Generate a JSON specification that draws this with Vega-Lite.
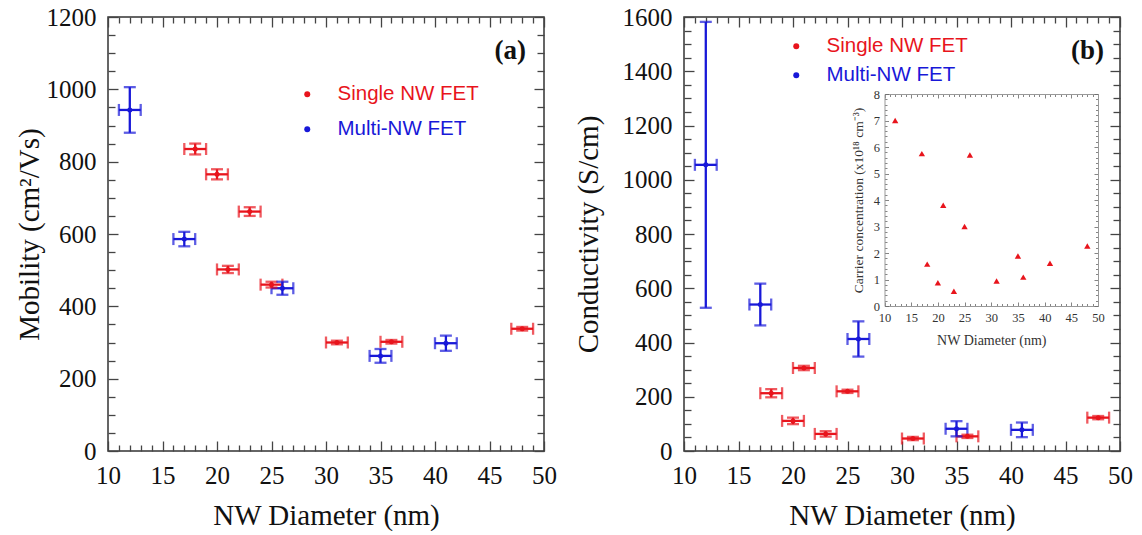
{
  "$schema": "https://vega.github.io/schema/vega-lite/v6.json",
  "background": "white",
  "padding": {"left": 14, "top": 4, "right": 5, "bottom": 0},
  "config": {
    "view": {"stroke": "#333", "strokeWidth": 1.5},
    "font": "Liberation Serif",
    "axis": {"grid": false, "ticks": true, "tickOpacity": 1, "labelFont": "Liberation Serif", "titleFont": "Liberation Serif", "labelColor": "#111", "titleColor": "#111", "titleFontWeight": "normal", "tickColor": "#444", "tickWidth": 1.3, "domainColor": "#333", "labelFlush": false, "labelOverlap": false, "labelBound": false}
  },
  "datasets": {
    "mob": [
      {"type": "Single NW FET", "d": 18, "dErr": 1, "v": 835, "vErr": 15},
      {"type": "Single NW FET", "d": 20, "dErr": 1, "v": 765, "vErr": 14},
      {"type": "Single NW FET", "d": 23, "dErr": 1, "v": 662, "vErr": 12},
      {"type": "Single NW FET", "d": 21, "dErr": 1, "v": 502, "vErr": 10},
      {"type": "Single NW FET", "d": 25, "dErr": 1, "v": 460, "vErr": 8},
      {"type": "Single NW FET", "d": 31, "dErr": 1, "v": 300, "vErr": 5},
      {"type": "Single NW FET", "d": 36, "dErr": 1, "v": 302, "vErr": 5},
      {"type": "Single NW FET", "d": 48, "dErr": 1, "v": 338, "vErr": 5},
      {"type": "Multi-NW FET", "d": 12, "dErr": 1, "v": 943, "vErr": 63},
      {"type": "Multi-NW FET", "d": 17, "dErr": 1, "v": 586, "vErr": 20},
      {"type": "Multi-NW FET", "d": 26, "dErr": 1, "v": 450, "vErr": 18},
      {"type": "Multi-NW FET", "d": 35, "dErr": 1, "v": 263, "vErr": 19},
      {"type": "Multi-NW FET", "d": 41, "dErr": 1, "v": 298, "vErr": 21}
    ],
    "cond": [
      {"type": "Single NW FET", "d": 18, "dErr": 1, "v": 213, "vErr": 15},
      {"type": "Single NW FET", "d": 20, "dErr": 1, "v": 111, "vErr": 12},
      {"type": "Single NW FET", "d": 21, "dErr": 1, "v": 306, "vErr": 8},
      {"type": "Single NW FET", "d": 23, "dErr": 1, "v": 63, "vErr": 10},
      {"type": "Single NW FET", "d": 25, "dErr": 1, "v": 220, "vErr": 6},
      {"type": "Single NW FET", "d": 31, "dErr": 1, "v": 46, "vErr": 6},
      {"type": "Single NW FET", "d": 36, "dErr": 1, "v": 54, "vErr": 6},
      {"type": "Single NW FET", "d": 48, "dErr": 1, "v": 123, "vErr": 6},
      {"type": "Multi-NW FET", "d": 12, "dErr": 1, "v": 1055, "vErr": 527},
      {"type": "Multi-NW FET", "d": 17, "dErr": 1, "v": 540, "vErr": 77},
      {"type": "Multi-NW FET", "d": 26, "dErr": 1, "v": 413, "vErr": 65},
      {"type": "Multi-NW FET", "d": 35, "dErr": 1, "v": 82, "vErr": 28},
      {"type": "Multi-NW FET", "d": 41, "dErr": 1, "v": 78, "vErr": 27}
    ],
    "carrier": [
      {"d": 12, "n": 7.0}, {"d": 17, "n": 5.75}, {"d": 26, "n": 5.7}, {"d": 21, "n": 3.8},
      {"d": 25, "n": 3.0}, {"d": 18, "n": 1.58}, {"d": 20, "n": 0.88}, {"d": 23, "n": 0.56},
      {"d": 31, "n": 0.94}, {"d": 35, "n": 1.89}, {"d": 36, "n": 1.09}, {"d": 41, "n": 1.61},
      {"d": 48, "n": 2.26}
    ]
  },
  "bounds": "flush",
  "spacing": 140,
  "resolve": {"scale": {"color": "independent"}, "legend": {"color": "independent"}},
  "hconcat": [
    {
      "width": 436, "height": 434,
      "title": {"text": "(a)", "anchor": "end", "frame": "group", "orient": "top", "offset": -60, "dx": -18, "fontSize": 27, "fontWeight": "bold", "font": "Liberation Serif", "color": "#111"},
      "data": {"name": "mob"},
      "layer": [
        {
          "transform": [{"filter": "datum.type === 'Single NW FET'"}],
          "mark": {"type": "errorbar", "color": "#e8141c", "ticks": {"size": 12}, "thickness": 2.3},
          "encoding": {
            "x": {"field": "d", "type": "quantitative", "scale": {"domain": [10, 50], "nice": false, "zero": false},
              "axis": {"orient": "bottom", "offset": -10, "ticks": true, "tickSize": 10, "domain": false, "values": [10,15,20,25,30,35,40,45,50], "format": "d", "labelOverlap": false, "labelFontSize": 25, "labelPadding": 12, "title": "NW Diameter (nm)", "titleFontSize": 29, "titlePadding": 13}},
            "xError": {"field": "dErr"},
            "y": {"field": "v", "type": "quantitative", "scale": {"domain": [0, 1200], "nice": false},
              "axis": {"orient": "left", "offset": -10, "ticks": true, "tickSize": 10, "domain": false, "values": [0,200,400,600,800,1000,1200], "format": "d", "labelOverlap": false, "labelFontSize": 25, "labelPadding": 12, "title": "Mobility (cm²/Vs)", "titleFontSize": 29, "titlePadding": 2}}
          }
        },
        {
          "transform": [{"filter": "datum.type === 'Multi-NW FET'"}],
          "mark": {"type": "errorbar", "color": "#1818d8", "ticks": {"size": 12}, "thickness": 2.3},
          "encoding": {
            "x": {"field": "d", "type": "quantitative", "scale": {"domain": [10, 50], "nice": false, "zero": false},
              "axis": {"orient": "bottom", "offset": -6, "ticks": true, "tickSize": 6, "domain": false, "labels": false, "title": null, "values": [11,12,13,14,16,17,18,19,21,22,23,24,26,27,28,29,31,32,33,34,36,37,38,39,41,42,43,44,46,47,48,49]}},
            "xError": {"field": "dErr"},
            "y": {"field": "v", "type": "quantitative", "scale": {"domain": [0, 1200], "nice": false},
              "axis": {"orient": "left", "offset": -7, "ticks": true, "tickSize": 7, "domain": false, "labels": false, "title": null, "values": [50,100,150,250,300,350,450,500,550,650,700,750,850,900,950,1050,1100,1150]}}
          }
        },
        {
          "transform": [{"filter": "datum.type === 'Single NW FET'"}],
          "mark": {"type": "errorbar", "color": "#e8141c", "ticks": {"size": 12}, "thickness": 2.3},
          "encoding": {
            "x": {"field": "d", "type": "quantitative", "scale": {"domain": [10, 50], "nice": false, "zero": false},
              "axis": {"orient": "top", "offset": -10, "ticks": true, "tickSize": 10, "domain": false, "labels": false, "title": null, "values": [10,15,20,25,30,35,40,45,50]}},
            "y": {"field": "v", "type": "quantitative", "scale": {"domain": [0, 1200], "nice": false},
              "axis": {"orient": "right", "offset": -10, "ticks": true, "tickSize": 10, "domain": false, "labels": false, "title": null, "values": [0,200,400,600,800,1000,1200]}},
            "yError": {"field": "vErr"}
          }
        },
        {
          "transform": [{"filter": "datum.type === 'Multi-NW FET'"}],
          "mark": {"type": "errorbar", "color": "#1818d8", "ticks": {"size": 12}, "thickness": 2.3},
          "encoding": {
            "x": {"field": "d", "type": "quantitative", "scale": {"domain": [10, 50], "nice": false, "zero": false},
              "axis": {"orient": "top", "offset": -6, "ticks": true, "tickSize": 6, "domain": false, "labels": false, "title": null, "values": [11,12,13,14,16,17,18,19,21,22,23,24,26,27,28,29,31,32,33,34,36,37,38,39,41,42,43,44,46,47,48,49]}},
            "y": {"field": "v", "type": "quantitative", "scale": {"domain": [0, 1200], "nice": false},
              "axis": {"orient": "right", "offset": -7, "ticks": true, "tickSize": 7, "domain": false, "labels": false, "title": null, "values": [50,100,150,250,300,350,450,500,550,650,700,750,850,900,950,1050,1100,1150]}},
            "yError": {"field": "vErr"}
          }
        },
        {
          "mark": {"type": "point", "filled": true, "size": 25, "opacity": 1},
          "encoding": {
            "x": {"field": "d", "type": "quantitative", "scale": {"domain": [10, 50], "nice": false, "zero": false}, "axis": null},
            "y": {"field": "v", "type": "quantitative", "scale": {"domain": [0, 1200], "nice": false}, "axis": null},
            "color": {"field": "type", "type": "nominal", "scale": {"domain": ["Single NW FET", "Multi-NW FET"], "range": ["#e8141c", "#1818d8"]},
              "legend": {"orient": "none", "legendX": 189, "legendY": 67, "title": null, "symbolType": "circle", "symbolSize": 36, "labelFont": "Liberation Sans", "labelFontSize": 20.5, "labelOffset": 20, "rowPadding": 14, "padding": 0, "labelColor": {"expr": "datum.label === 'Single NW FET' ? '#e8141c' : '#1818d8'"}}}
          }
        }
      ],
      "resolve": {"axis": {"x": "independent", "y": "independent"}}
    },
    {
      "width": 436, "height": 434,
      "title": {"text": "(b)", "anchor": "end", "frame": "group", "orient": "top", "offset": -60, "dx": -16, "fontSize": 27, "fontWeight": "bold", "font": "Liberation Serif", "color": "#111"},
      "layer": [
        {
          "data": {"name": "cond"},
          "transform": [{"filter": "datum.type === 'Single NW FET'"}],
          "mark": {"type": "errorbar", "color": "#e8141c", "ticks": {"size": 12}, "thickness": 2.3},
          "encoding": {
            "x": {"field": "d", "type": "quantitative", "scale": {"domain": [10, 50], "nice": false, "zero": false},
              "axis": {"orient": "bottom", "offset": -10, "ticks": true, "tickSize": 10, "domain": false, "values": [10,15,20,25,30,35,40,45,50], "format": "d", "labelOverlap": false, "labelFontSize": 25, "labelPadding": 12, "title": "NW Diameter (nm)", "titleFontSize": 29, "titlePadding": 13}},
            "xError": {"field": "dErr"},
            "y": {"field": "v", "type": "quantitative", "scale": {"domain": [0, 1600], "nice": false},
              "axis": {"orient": "left", "offset": -10, "ticks": true, "tickSize": 10, "domain": false, "values": [0,200,400,600,800,1000,1200,1400,1600], "format": "d", "labelOverlap": false, "labelFontSize": 25, "labelPadding": 12, "title": "Conductivity (S/cm)", "titleFontSize": 29, "titlePadding": 19}}
          }
        },
        {
          "data": {"name": "cond"},
          "transform": [{"filter": "datum.type === 'Multi-NW FET'"}],
          "mark": {"type": "errorbar", "color": "#1818d8", "ticks": {"size": 12}, "thickness": 2.3},
          "encoding": {
            "x": {"field": "d", "type": "quantitative", "scale": {"domain": [10, 50], "nice": false, "zero": false},
              "axis": {"orient": "bottom", "offset": -6, "ticks": true, "tickSize": 6, "domain": false, "labels": false, "title": null, "values": [11,12,13,14,16,17,18,19,21,22,23,24,26,27,28,29,31,32,33,34,36,37,38,39,41,42,43,44,46,47,48,49]}},
            "xError": {"field": "dErr"},
            "y": {"field": "v", "type": "quantitative", "scale": {"domain": [0, 1600], "nice": false},
              "axis": {"orient": "left", "offset": -7, "ticks": true, "tickSize": 7, "domain": false, "labels": false, "title": null, "values": [50,100,150,250,300,350,450,500,550,650,700,750,850,900,950,1050,1100,1150,1250,1300,1350,1450,1500,1550]}}
          }
        },
        {
          "data": {"name": "cond"},
          "transform": [{"filter": "datum.type === 'Single NW FET'"}],
          "mark": {"type": "errorbar", "color": "#e8141c", "ticks": {"size": 12}, "thickness": 2.3},
          "encoding": {
            "x": {"field": "d", "type": "quantitative", "scale": {"domain": [10, 50], "nice": false, "zero": false},
              "axis": {"orient": "top", "offset": -10, "ticks": true, "tickSize": 10, "domain": false, "labels": false, "title": null, "values": [10,15,20,25,30,35,40,45,50]}},
            "y": {"field": "v", "type": "quantitative", "scale": {"domain": [0, 1600], "nice": false},
              "axis": {"orient": "right", "offset": -10, "ticks": true, "tickSize": 10, "domain": false, "labels": false, "title": null, "values": [0,200,400,600,800,1000,1200,1400,1600]}},
            "yError": {"field": "vErr"}
          }
        },
        {
          "data": {"name": "cond"},
          "transform": [{"filter": "datum.type === 'Multi-NW FET'"}],
          "mark": {"type": "errorbar", "color": "#1818d8", "ticks": {"size": 12}, "thickness": 2.3},
          "encoding": {
            "x": {"field": "d", "type": "quantitative", "scale": {"domain": [10, 50], "nice": false, "zero": false},
              "axis": {"orient": "top", "offset": -6, "ticks": true, "tickSize": 6, "domain": false, "labels": false, "title": null, "values": [11,12,13,14,16,17,18,19,21,22,23,24,26,27,28,29,31,32,33,34,36,37,38,39,41,42,43,44,46,47,48,49]}},
            "y": {"field": "v", "type": "quantitative", "scale": {"domain": [0, 1600], "nice": false},
              "axis": {"orient": "right", "offset": -7, "ticks": true, "tickSize": 7, "domain": false, "labels": false, "title": null, "values": [50,100,150,250,300,350,450,500,550,650,700,750,850,900,950,1050,1100,1150,1250,1300,1350,1450,1500,1550]}},
            "yError": {"field": "vErr"}
          }
        },
        {
          "data": {"name": "cond"},
          "mark": {"type": "point", "filled": true, "size": 25, "opacity": 1},
          "encoding": {
            "x": {"field": "d", "type": "quantitative", "scale": {"domain": [10, 50], "nice": false, "zero": false}, "axis": null},
            "y": {"field": "v", "type": "quantitative", "scale": {"domain": [0, 1600], "nice": false}, "axis": null},
            "color": {"field": "type", "type": "nominal", "scale": {"domain": ["Single NW FET", "Multi-NW FET"], "range": ["#e8141c", "#1818d8"]},
              "legend": {"orient": "none", "legendX": 102, "legendY": 19, "title": null, "symbolType": "circle", "symbolSize": 36, "labelFont": "Liberation Sans", "labelFontSize": 20.5, "labelOffset": 20, "rowPadding": 8, "padding": 0, "labelColor": {"expr": "datum.label === 'Single NW FET' ? '#e8141c' : '#1818d8'"}}}
          }
        },
        {
          "data": {"name": "carrier"},
          "mark": {"type": "point", "shape": "triangle-up", "filled": true, "color": "#e8141c", "size": 40, "opacity": 1},
          "encoding": {
            "x": {"field": "d", "type": "quantitative", "scale": {"domain": [10, 50], "nice": false, "zero": false, "range": [200.5, 414]},
              "axis": {"orient": "bottom", "offset": -149, "ticks": true, "tickSize": 4, "domain": false, "values": [10,15,20,25,30,35,40,45,50], "format": "d", "labelOverlap": false, "tickWidth": 0.8, "tickColor": "#666", "labelFontSize": 12.5, "labelPadding": 5, "labelColor": "#333", "title": "NW Diameter (nm)", "titleFontSize": 14, "titlePadding": 10, "titleColor": "#333"}},
            "y": {"field": "n", "type": "quantitative", "scale": {"domain": [0, 8], "nice": false, "zero": false, "range": [289, 77]},
              "axis": {"orient": "left", "offset": -204.5, "ticks": true, "tickSize": 4, "domain": false, "values": [0,1,2,3,4,5,6,7,8], "format": "d", "labelOverlap": false, "tickWidth": 0.8, "tickColor": "#666", "labelFontSize": 12.5, "labelPadding": 5, "labelColor": "#333", "title": "Carrier concentration (x10¹⁸ cm⁻³)", "titleFontSize": 13.5, "titlePadding": 7.5, "titleColor": "#333"}}
          }
        },
        {
          "data": {"name": "carrier"},
          "mark": {"type": "point", "opacity": 0},
          "encoding": {
            "x": {"field": "d", "type": "quantitative", "scale": {"domain": [10, 50], "nice": false, "zero": false, "range": [200.5, 414]},
              "axis": {"orient": "bottom", "offset": -147.5, "ticks": true, "tickSize": 2.5, "domain": false, "labels": false, "title": null, "tickWidth": 0.8, "tickColor": "#666", "values": [11,12,13,14,16,17,18,19,21,22,23,24,26,27,28,29,31,32,33,34,36,37,38,39,41,42,43,44,46,47,48,49]}},
            "y": {"field": "n", "type": "quantitative", "scale": {"domain": [0, 8], "nice": false, "zero": false, "range": [289, 77]},
              "axis": {"orient": "left", "offset": -203, "ticks": true, "tickSize": 2.5, "domain": false, "labels": false, "title": null, "tickWidth": 0.8, "tickColor": "#666", "values": [0.2,0.4,0.6,0.8,1.2,1.4,1.6,1.8,2.2,2.4,2.6,2.8,3.2,3.4,3.6,3.8,4.2,4.4,4.6,4.8,5.2,5.4,5.6,5.8,6.2,6.4,6.6,6.8,7.2,7.4,7.6,7.8]}}
          }
        },
        {
          "data": {"name": "carrier"},
          "mark": {"type": "point", "opacity": 0},
          "encoding": {
            "x": {"field": "d", "type": "quantitative", "scale": {"domain": [10, 50], "nice": false, "zero": false, "range": [200.5, 414]},
              "axis": {"orient": "bottom", "offset": -145, "ticks": false, "labels": false, "title": null, "domain": true, "domainColor": "#999", "domainWidth": 1}},
            "y": {"field": "n", "type": "quantitative", "scale": {"domain": [0, 8], "nice": false, "zero": false, "range": [289, 77]},
              "axis": {"orient": "left", "offset": -200.5, "ticks": false, "labels": false, "title": null, "domain": true, "domainColor": "#999", "domainWidth": 1}}
          }
        },
        {
          "data": {"name": "carrier"},
          "mark": {"type": "point", "opacity": 0},
          "encoding": {
            "x": {"field": "d", "type": "quantitative", "scale": {"domain": [10, 50], "nice": false, "zero": false, "range": [200.5, 414]},
              "axis": {"orient": "top", "offset": -81, "ticks": true, "tickSize": 4, "domain": false, "labels": false, "title": null, "tickWidth": 0.8, "tickColor": "#666", "values": [10,15,20,25,30,35,40,45,50]}},
            "y": {"field": "n", "type": "quantitative", "scale": {"domain": [0, 8], "nice": false, "zero": false, "range": [289, 77]},
              "axis": {"orient": "right", "offset": -26, "ticks": true, "tickSize": 4, "domain": false, "labels": false, "title": null, "tickWidth": 0.8, "tickColor": "#666", "values": [0,1,2,3,4,5,6,7,8]}}
          }
        },
        {
          "data": {"name": "carrier"},
          "mark": {"type": "point", "opacity": 0},
          "encoding": {
            "x": {"field": "d", "type": "quantitative", "scale": {"domain": [10, 50], "nice": false, "zero": false, "range": [200.5, 414]},
              "axis": {"orient": "top", "offset": -79.5, "ticks": true, "tickSize": 2.5, "domain": false, "labels": false, "title": null, "tickWidth": 0.8, "tickColor": "#666", "values": [11,12,13,14,16,17,18,19,21,22,23,24,26,27,28,29,31,32,33,34,36,37,38,39,41,42,43,44,46,47,48,49]}},
            "y": {"field": "n", "type": "quantitative", "scale": {"domain": [0, 8], "nice": false, "zero": false, "range": [289, 77]},
              "axis": {"orient": "right", "offset": -24.5, "ticks": true, "tickSize": 2.5, "domain": false, "labels": false, "title": null, "tickWidth": 0.8, "tickColor": "#666", "values": [0.2,0.4,0.6,0.8,1.2,1.4,1.6,1.8,2.2,2.4,2.6,2.8,3.2,3.4,3.6,3.8,4.2,4.4,4.6,4.8,5.2,5.4,5.6,5.8,6.2,6.4,6.6,6.8,7.2,7.4,7.6,7.8]}}
          }
        },
        {
          "data": {"name": "carrier"},
          "mark": {"type": "point", "opacity": 0},
          "encoding": {
            "x": {"field": "d", "type": "quantitative", "scale": {"domain": [10, 50], "nice": false, "zero": false, "range": [200.5, 414]},
              "axis": {"orient": "top", "offset": -77, "ticks": false, "labels": false, "title": null, "domain": true, "domainColor": "#999", "domainWidth": 1}},
            "y": {"field": "n", "type": "quantitative", "scale": {"domain": [0, 8], "nice": false, "zero": false, "range": [289, 77]},
              "axis": {"orient": "right", "offset": -22, "ticks": false, "labels": false, "title": null, "domain": true, "domainColor": "#999", "domainWidth": 1}}
          }
        }
      ],
      "resolve": {"scale": {"x": "independent", "y": "independent"}, "axis": {"x": "independent", "y": "independent"}}
    }
  ]
}
